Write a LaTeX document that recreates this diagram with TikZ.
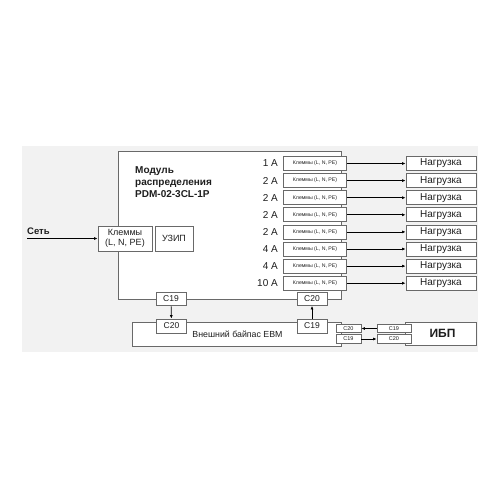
\documentclass[tikz,border=0pt]{standalone}
\usepackage{fontspec}
\setmainfont{Liberation Sans}
\usetikzlibrary{arrows.meta}
\definecolor{bgrey}{RGB}{242,242,242}
\definecolor{lgrey}{RGB}{105,105,105}
\definecolor{tdark}{RGB}{30,30,30}
\tikzset{
  bx/.style={draw=lgrey,fill=white,line width=0.8pt,inner sep=0pt,text=tdark},
  term/.style={bx,minimum width=63pt,minimum height=14pt,font=\fontsize{5.2}{6}\selectfont},
  load/.style={bx,minimum width=70pt,minimum height=14pt,font=\fontsize{10}{11}\selectfont},
  plug/.style={bx,minimum width=30pt,minimum height=13pt,font=\fontsize{8.5}{9}\selectfont},
  minip/.style={bx,minimum height=8.5pt,font=\fontsize{5.5}{6}\selectfont},
  amp/.style={anchor=east,inner sep=0pt,text=tdark,font=\fontsize{10}{11}\selectfont},
  wire/.style={draw=black,line width=0.7pt,-{Latex[length=3.5pt,width=3pt]}},
}
\begin{document}
\begin{tikzpicture}[x=1pt,y=-1pt]
\useasboundingbox (0,0) rectangle (500,500);
\fill[bgrey] (22,146) rectangle (478,352);
\node[bx,minimum width=223pt,minimum height=148pt] (pdm) at (229.5,225) {};
\node[bx,minimum width=209pt,minimum height=24pt,font=\fontsize{8.8}{10}\selectfont] (ebm) at (236.5,334) {\hspace*{2pt}Внешний байпас EBM};
\node[anchor=north west,inner sep=0pt,align=left,text=tdark,font=\bfseries\fontsize{10}{12}\selectfont] (title) at (135,166.5) {Модуль\\распределения\\PDM-02-3CL-1P};
\node[bx,minimum width=54pt,minimum height=25pt,align=center,font=\fontsize{9}{10.5}\selectfont] (kin) at (125,238.5) {Клеммы\\(L, N, PE)};
\node[bx,minimum width=38pt,minimum height=25pt,font=\fontsize{9}{10}\selectfont] (uzip) at (174,238.5) {УЗИП};
\coordinate (grid) at (27,238.5);
\node[anchor=south west,inner sep=0pt,text=tdark,font=\bfseries\fontsize{9.5}{10}\selectfont] (gridlbl) at (27,235) {Сеть};
\draw[wire] (grid) -- (kin);
\node[amp] (a1) at (278,163.5) {1 A};
\node[amp] (a2) at (278,180.6) {2 A};
\node[amp] (a3) at (278,197.7) {2 A};
\node[amp] (a4) at (278,214.8) {2 A};
\node[amp] (a5) at (278,231.9) {2 A};
\node[amp] (a6) at (278,249.0) {4 A};
\node[amp] (a7) at (278,266.1) {4 A};
\node[amp] (a8) at (278,283.2) {10 A};
\node[term] (t1) at (315,163.5) {Клеммы (L, N, PE)};
\node[term] (t2) at (315,180.6) {Клеммы (L, N, PE)};
\node[term] (t3) at (315,197.7) {Клеммы (L, N, PE)};
\node[term] (t4) at (315,214.8) {Клеммы (L, N, PE)};
\node[term] (t5) at (315,231.9) {Клеммы (L, N, PE)};
\node[term] (t6) at (315,249.0) {Клеммы (L, N, PE)};
\node[term] (t7) at (315,266.1) {Клеммы (L, N, PE)};
\node[term] (t8) at (315,283.2) {Клеммы (L, N, PE)};
\node[load] (l1) at (441,163.5) {Нагрузка};
\node[load] (l2) at (441,180.6) {Нагрузка};
\node[load] (l3) at (441,197.7) {Нагрузка};
\node[load] (l4) at (441,214.8) {Нагрузка};
\node[load] (l5) at (441,231.9) {Нагрузка};
\node[load] (l6) at (441,249.0) {Нагрузка};
\node[load] (l7) at (441,266.1) {Нагрузка};
\node[load] (l8) at (441,283.2) {Нагрузка};
\draw[wire] (t1) -- (l1);
\draw[wire] (t2) -- (l2);
\draw[wire] (t3) -- (l3);
\draw[wire] (t4) -- (l4);
\draw[wire] (t5) -- (l5);
\draw[wire] (t6) -- (l6);
\draw[wire] (t7) -- (l7);
\draw[wire] (t8) -- (l8);
\node[plug] (pc19) at (171,299) {C19};
\node[plug] (pc20) at (312,299) {C20};
\node[plug,minimum height=14pt] (bc20) at (171.5,326) {C20};
\node[plug,minimum height=14pt] (bc19) at (312,326) {C19};
\draw[wire] (pc19) -- (bc20);
\draw[wire] (bc19) -- (pc20);
\node[bx,minimum width=71pt,minimum height=23pt,font=\bfseries\fontsize{12}{14}\selectfont] (ups) at (440.5,333.5) {\hspace*{4pt}ИБП};
\node[minip,minimum width=25pt] (ec20) at (348.5,328.5) {C20};
\node[minip,minimum width=25pt] (ec19) at (348.5,339) {C19};
\node[minip,minimum width=34pt] (uc19) at (394,328.5) {C19};
\node[minip,minimum width=34pt] (uc20) at (394,339) {C20};
\draw[wire] (uc19) -- (ec20);
\draw[wire] (ec19) -- (uc20);
\end{tikzpicture}
\end{document}
